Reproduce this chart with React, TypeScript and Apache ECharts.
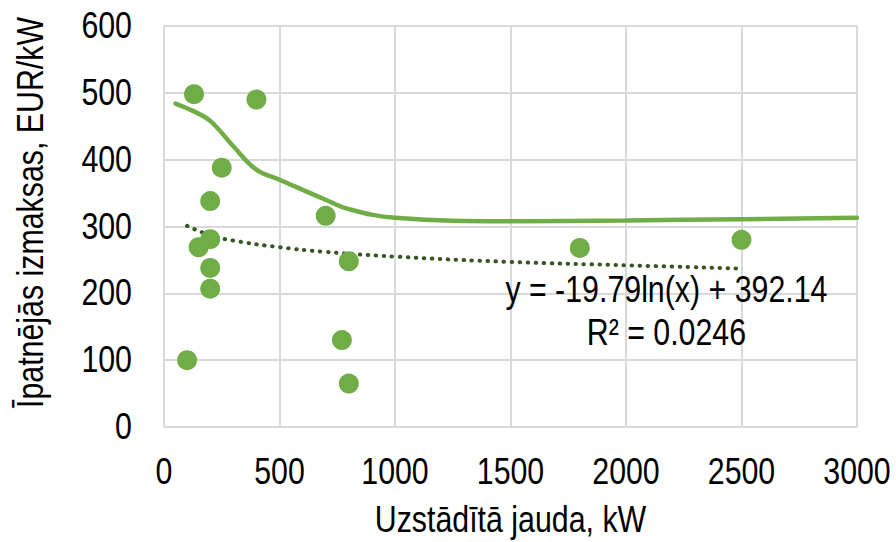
import React, { useEffect, useRef } from "react";
import * as echarts from "echarts";

const FONT = "'Liberation Sans', Arial, sans-serif";
const FS = 37;
const SX = 0.82; // horizontal condensing of the narrow font

// Scatter observations: [installed power kW, specific cost EUR/kW]
const scatterX = [130, 400, 250, 200, 200, 150, 200, 200, 100, 700, 800, 770, 800, 1800, 2500];
const scatterY = [498, 490, 388, 338, 281, 269, 238, 207, 100, 316, 248, 130, 65, 268, 280];

// Solid smoothed curve
const curveX = [50, 125, 200, 300, 400, 500, 700, 800, 1000, 1500, 2000, 2500, 3000];
const curveY = [484, 473, 458, 420, 385, 370, 340, 326, 313, 308, 309, 311, 313];

// Dotted logarithmic trendline
const trendX = [100, 200, 300, 500, 700, 1000, 1500, 2000, 2500];
const trendY = [301, 287, 279, 269, 262, 255, 247, 242, 237];

const xTickValues = [0, 500, 1000, 1500, 2000, 2500, 3000];
const xTickLabels = ["0", "500", "1000", "1500", "2000", "2500", "3000"];
const yTickValues = [0, 100, 200, 300, 400, 500, 600];
const yTickLabels = ["0", "100", "200", "300", "400", "500", "600"];

const xTitle = "Uzstādītā jauda, kW";
const yTitle = "Īpatnējās izmaksas, EUR/kW";
const eqLine1 = "y = -19.79ln(x) + 392.14";
const eqLine2 = "R² = 0.0246";

const GREEN = "#70AD47";
const DARK_GREEN = "#375623";
const GRID = "#D9D9D9";

function txt(text: string, x: number, y: number, align: string, extra: any = {}) {
  return {
    type: "text",
    x,
    y,
    scaleX: SX,
    silent: true,
    z: 10,
    ...extra,
    style: {
      text,
      fontFamily: FONT,
      fontSize: FS,
      fill: "#000",
      align,
      verticalAlign: "middle",
    },
  };
}

export default function App() {
  const ref = useRef<HTMLDivElement>(null);
  useEffect(() => {
    if (!ref.current) return;
    const chart = echarts.init(ref.current, undefined, { renderer: "svg" });
    chart.setOption({
      animation: false,
      backgroundColor: "#fff",
      grid: { left: 164, right: 39, top: 26, bottom: 115, containLabel: false, outerBoundsMode: "none" },
      xAxis: {
        type: "value",
        min: 0,
        max: 3000,
        interval: 500,
        axisLine: { show: false },
        axisTick: { show: false },
        axisLabel: { show: false },
        splitLine: { show: true, lineStyle: { color: GRID, width: 2 } },
      },
      yAxis: {
        type: "value",
        min: 0,
        max: 600,
        interval: 100,
        axisLine: { show: false },
        axisTick: { show: false },
        axisLabel: { show: false },
        splitLine: { show: true, lineStyle: { color: GRID, width: 2 } },
      },
      series: [
        {
          type: "line",
          data: curveX.map((x, i) => [x, curveY[i]]),
          smooth: 0.4,
          showSymbol: false,
          lineStyle: { color: GREEN, width: 4.5, cap: "round" },
          z: 2,
        },
        {
          type: "line",
          data: trendX.map((x, i) => [x, trendY[i]]),
          smooth: true,
          showSymbol: false,
          lineStyle: { color: DARK_GREEN, width: 4, type: [0.5, 7.5], cap: "round" },
          z: 3,
        },
        {
          type: "scatter",
          data: scatterX.map((x, i) => [x, scatterY[i]]),
          symbolSize: 20,
          itemStyle: { color: GREEN, opacity: 1 },
          z: 4,
        },
      ],
    });

    const px = (v: number) => chart.convertToPixel({ xAxisIndex: 0 }, v) as number;
    const py = (v: number) => chart.convertToPixel({ yAxisIndex: 0 }, v) as number;
    const bottom = py(0);
    const left = px(0);
    const top = py(600);
    const right = px(3000);

    const graphics: any[] = [];
    xTickValues.forEach((v, i) => graphics.push(txt(xTickLabels[i], px(v), bottom + 44, "center")));
    yTickValues.forEach((v, i) => graphics.push(txt(yTickLabels[i], left - 32, py(v) - 1, "right")));
    graphics.push(txt(xTitle, (left + right) / 2, bottom + 92, "center"));
    graphics.push(txt(yTitle, left - 134, (top + bottom) / 2 - 14, "center", { rotation: Math.PI / 2 }));
    graphics.push(txt(eqLine1, px(2175), py(207), "center"));
    graphics.push(txt(eqLine2, px(2175), py(142), "center"));

    chart.setOption({ graphic: graphics });
    return () => chart.dispose();
  }, []);
  return <div ref={ref} style={{ width: 896, height: 542, position: "absolute", left: 0, top: 0 }} />;
}
